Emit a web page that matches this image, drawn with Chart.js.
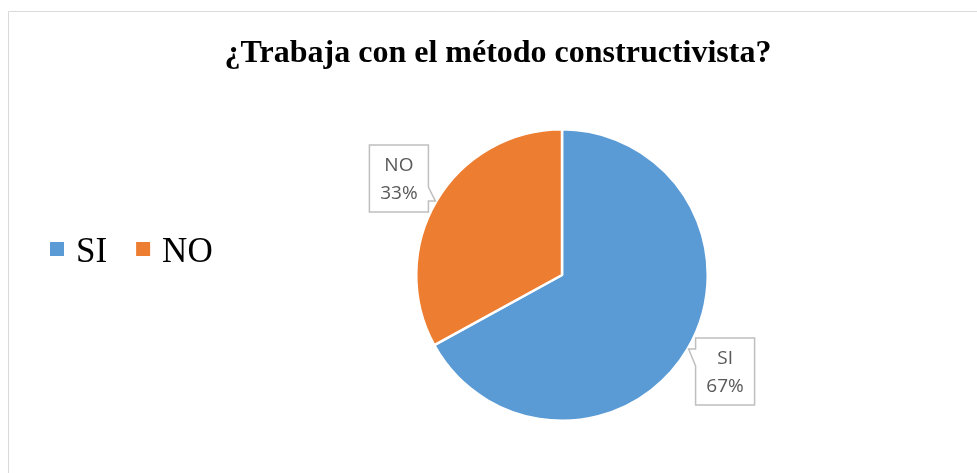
<!DOCTYPE html>
<html>
<head>
<meta charset="utf-8">
<script src="https://cdn.jsdelivr.net/npm/chart.js@4.4.0/dist/chart.umd.min.js"></script>
<style>
html, body { margin: 0; padding: 0; background: #fff; }
</style>
</head>
<body>
<canvas id="myChart" width="977" height="473"></canvas>
<script>
var titleText = "¿Trabaja con el método constructivista?";
var categories = ["SI", "NO"];
var percentValues = [67, 33];
var sliceColors = ["#5B9BD5", "#ED7D31"];

/* callout box with a little pointer, side > 0 -> pointer on right-bottom */
function drawCallout(ctx, cx, cy, w, h, side, lines) {
    var l = cx - w / 2, r = cx + w / 2, t = cy - h / 2, b = cy + h / 2;
    ctx.beginPath();
    if (side > 0) {
        ctx.moveTo(l, t); ctx.lineTo(r, t); ctx.lineTo(r, b - 25);
        ctx.lineTo(r + 7, b - 11); ctx.lineTo(r, b - 11); ctx.lineTo(r, b);
        ctx.lineTo(l, b); ctx.closePath();
    } else {
        ctx.moveTo(l, t); ctx.lineTo(r, t); ctx.lineTo(r, b); ctx.lineTo(l, b);
        ctx.lineTo(l, t + 28); ctx.lineTo(l - 7, t + 11); ctx.lineTo(l, t + 11);
        ctx.closePath();
    }
    ctx.fillStyle = "#fff";
    ctx.fill();
    ctx.lineWidth = 1.5;
    ctx.strokeStyle = "#bfbfbf";
    ctx.stroke();
    ctx.fillStyle = "#595959";
    ctx.font = '19px "Open Sans"';
    ctx.textAlign = "center";
    ctx.textBaseline = "middle";
    ctx.fillText(lines[0], cx, cy - 13);
    ctx.fillText(lines[1], cx, cy + 15);
}

var extras = {
    id: "extras",
    afterDraw: function (chart) {
        var ctx = chart.ctx;
        ctx.save();
        // frame
        ctx.strokeStyle = "#d9d9d9";
        ctx.lineWidth = 1;
        ctx.beginPath();
        ctx.moveTo(8.5, 473); ctx.lineTo(8.5, 11.5); ctx.lineTo(977, 11.5);
        ctx.stroke();

        // title
        ctx.fillStyle = "#000";
        ctx.font = 'bold 32px "Liberation Serif"';
        ctx.textAlign = "center";
        ctx.textBaseline = "alphabetic";
        ctx.fillText(titleText, 498, 62);

        // legend
        ctx.font = '35px "Liberation Serif"';
        ctx.textAlign = "left";
        ctx.textBaseline = "alphabetic";
        var x = 50;
        for (var i = 0; i < categories.length; i++) {
            ctx.fillStyle = sliceColors[i];
            ctx.fillRect(x, 242, 14, 14);
            ctx.fillStyle = "#000";
            ctx.fillText(categories[i], x + 26, 262);
            x += 26 + ctx.measureText(categories[i]).width + 29;
        }

        // data labels
        var meta = chart.getDatasetMeta(0);
        var total = percentValues.reduce(function (a, b) { return a + b; }, 0);
        meta.data.forEach(function (arc, i) {
            var p = arc.getProps(["x", "y", "startAngle", "endAngle", "outerRadius"], true);
            var mid = (p.startAngle + p.endAngle) / 2;
            var d = p.outerRadius * 1.3;
            var cx = p.x + Math.cos(mid) * d;
            var cy = p.y + Math.sin(mid) * d;
            var side = Math.cos(mid) < 0 ? 1 : -1;
            var pct = Math.round(percentValues[i] / total * 100) + "%";
            drawCallout(ctx, cx, cy, 59, 67, side, [categories[i], pct]);
        });
        ctx.restore();
    }
};

new Chart("myChart", {
    type: "pie",
    data: {
        labels: categories,
        datasets: [{
            data: percentValues,
            backgroundColor: sliceColors,
            borderColor: "#fff",
            borderWidth: 2.5
        }]
    },
    options: {
        responsive: false,
        devicePixelRatio: 1,
        animation: false,
        layout: { padding: { left: 147, right: 0, top: 128, bottom: 51 } },
        plugins: {
            legend: { display: false },
            title: { display: false },
            tooltip: { enabled: false }
        }
    },
    plugins: [extras]
});
</script>
</body>
</html>
